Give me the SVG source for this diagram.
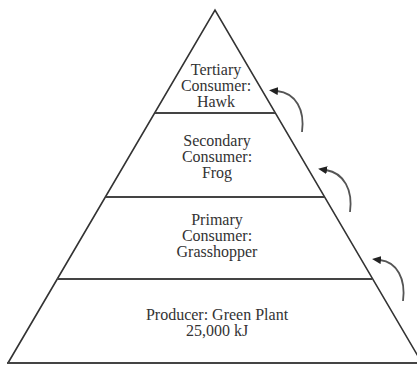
<svg xmlns="http://www.w3.org/2000/svg" width="417" height="365" viewBox="0 0 417 365">
<style>
.edge{fill:none;stroke:#333;stroke-width:1.6}
.tier{fill:none;stroke:#444;stroke-width:2.2}
.lbl{font-family:"Liberation Serif","Times New Roman",serif;font-size:16px;fill:#333;text-anchor:middle}
.arc{fill:none;stroke:#555;stroke-width:1.8}
</style>
<defs>
<marker id="ah" markerWidth="10" markerHeight="8" refX="1" refY="4" orient="auto" markerUnits="userSpaceOnUse">
<path d="M0,0 L9,4 L0,8 Z" fill="#222"/>
</marker>
</defs>
<rect width="417" height="365" fill="#fff"/>
<g id="pyramid">
<polyline class="edge" points="8,363 215,10 422,363"/>
<line class="tier" x1="7" y1="363" x2="417" y2="363"/>
</g>
<g id="tertiary">
<line class="tier" x1="155" y1="113" x2="275" y2="113"/>
<text class="lbl" x="216" y="75">Tertiary</text>
<text class="lbl" x="216" y="91">Consumer:</text>
<text class="lbl" x="216" y="107">Hawk</text>
</g>
<g id="secondary">
<line class="tier" x1="106" y1="197" x2="324" y2="197"/>
<text class="lbl" x="217" y="146">Secondary</text>
<text class="lbl" x="217" y="162">Consumer:</text>
<text class="lbl" x="217" y="178">Frog</text>
</g>
<g id="primary">
<line class="tier" x1="57" y1="279" x2="372" y2="279"/>
<text class="lbl" x="217" y="225">Primary</text>
<text class="lbl" x="217" y="241">Consumer:</text>
<text class="lbl" x="217" y="257">Grasshopper</text>
</g>
<g id="producer">
<text class="lbl" x="217" y="320">Producer: Green Plant</text>
<text class="lbl" x="217" y="336">25,000 kJ</text>
</g>
<g id="connectors">
<path class="arc" d="M302,132 C305,110 296,93 277,91" marker-end="url(#ah)"/>
<path class="arc" d="M350,212 C353,190 344,173 326,170" marker-end="url(#ah)"/>
<path class="arc" d="M403,301 C406,279 397,262 380,260" marker-end="url(#ah)"/>
</g>
</svg>
